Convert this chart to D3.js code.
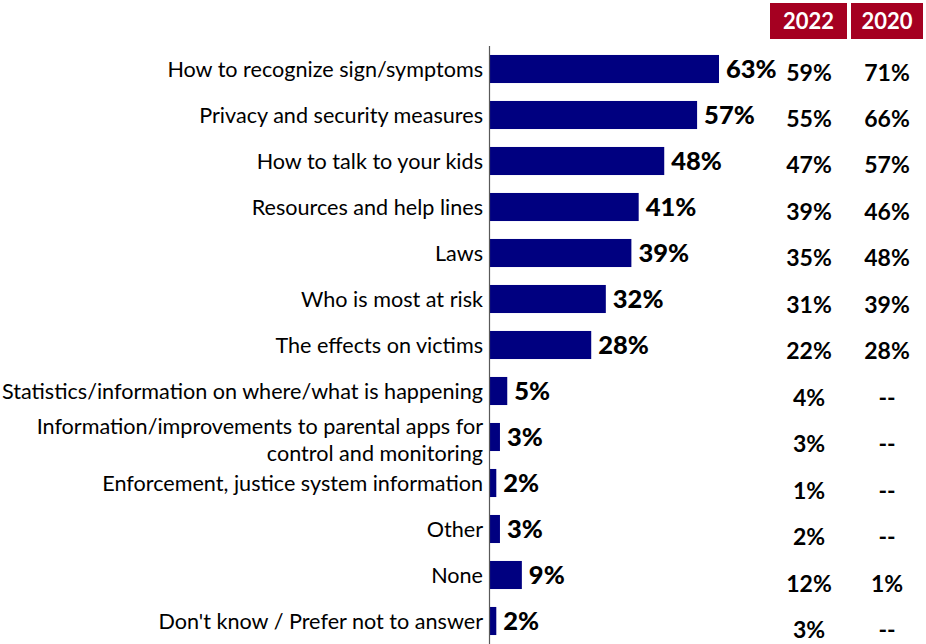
<!DOCTYPE html>
<html>
<head>
<meta charset="utf-8">
<script src="https://cdn.jsdelivr.net/npm/d3@7"></script>
<style>
  html, body { margin: 0; padding: 0; background: #fff; }
  svg { display: block; font-family: Lato, "Open Sans", sans-serif; }
</style>
</head>
<body>
<svg id="chart" width="926" height="644"></svg>
<script>
// Topics of interest, current survey share (%) with the two comparison columns
const categories = [
  "How to recognize sign/symptoms",
  "Privacy and security measures",
  "How to talk to your kids",
  "Resources and help lines",
  "Laws",
  "Who is most at risk",
  "The effects on victims",
  "Statistics/information on where/what is happening",
  "Information/improvements to parental apps for\ncontrol and monitoring",
  "Enforcement, justice system information",
  "Other",
  "None",
  "Don't know / Prefer not to answer"
];
const current = [63, 57, 48, 41, 39, 32, 28, 5, 3, 2, 3, 9, 2];
const values2022 = ["59%", "55%", "47%", "39%", "35%", "31%", "22%", "4%", "3%", "1%", "2%", "12%", "3%"];
const values2020 = ["71%", "66%", "57%", "46%", "48%", "39%", "28%", "--", "--", "--", "--", "1%", "--"];
const columnHeaders = ["2022", "2020"];

const svg = d3.select("#chart");

const axisX = 489;
const x = d3.scaleLinear().domain([0, 63]).range([axisX, 719]);
const y = d3.scaleBand().domain(d3.range(categories.length)).range([46, 644]).paddingInner(0.39).paddingOuter(0.195);
const yTable = d3.scaleBand().domain(d3.range(categories.length)).range([49, 653]);

// Column header boxes
const colX = d3.scaleOrdinal().domain(columnHeaders).range([770, 851]);
const colW = d3.scaleOrdinal().domain(columnHeaders).range([77, 72]);
const headers = svg.append("g").selectAll("g").data(columnHeaders).join("g");
headers.append("rect")
  .attr("x", d => colX(d)).attr("y", 3)
  .attr("width", d => colW(d)).attr("height", 36)
  .attr("fill", "#A50021");
headers.append("text")
  .attr("x", d => colX(d) + colW(d) / 2).attr("y", 21)
  .attr("dy", "0.36em").attr("text-anchor", "middle")
  .attr("fill", "#fff").attr("font-weight", "bold").attr("font-size", 22)
  .text(d => d);

// Bars
svg.append("g").selectAll("rect").data(current).join("rect")
  .attr("x", x(0)).attr("y", (d, i) => y(i))
  .attr("width", d => x(d) - x(0)).attr("height", y.bandwidth())
  .attr("fill", "#000080");

// Vertical axis line
svg.append("line")
  .attr("x1", axisX + 0.5).attr("x2", axisX + 0.5)
  .attr("y1", 46).attr("y2", 644)
  .attr("stroke", "#595959").attr("stroke-width", 1.2);

// Category labels (multi-line where needed)
const labels = svg.append("g").selectAll("text").data(categories).join("text")
  .attr("text-anchor", "end").attr("font-size", 21.6).attr("fill", "#000")
  .attr("transform", (d, i) => `translate(483, ${y(i) + y.bandwidth() / 2})`);
labels.each(function(d) {
  const lines = d.split("\n");
  const lh = 27;
  const off = -(lines.length - 1) * lh / 2 + (lines.length > 1 ? 3 : 0);
  d3.select(this).selectAll("tspan").data(lines).join("tspan")
    .attr("x", 0).attr("y", (l, j) => off + j * lh).attr("dy", "0.35em")
    .text(l => l);
});

// Bar value labels
svg.append("g").selectAll("text").data(current).join("text")
  .attr("x", d => x(d) + 7).attr("y", (d, i) => y(i) + y.bandwidth() / 2)
  .attr("dy", "0.36em").attr("font-size", 25.5).attr("font-weight", "900").attr("fill", "#000")
  .text(d => d + "%");

// Comparison columns
[values2022, values2020].forEach((vals, k) => {
  const cx = k === 0 ? 809 : 887;
  svg.append("g").selectAll("text").data(vals).join("text")
    .attr("x", cx).attr("y", (d, i) => yTable(i) + yTable.bandwidth() / 2)
    .attr("dy", "0.36em").attr("text-anchor", "middle")
    .attr("font-size", 23).attr("font-weight", "bold").attr("fill", "#000")
    .text(d => d);
});
</script>
</body>
</html>
